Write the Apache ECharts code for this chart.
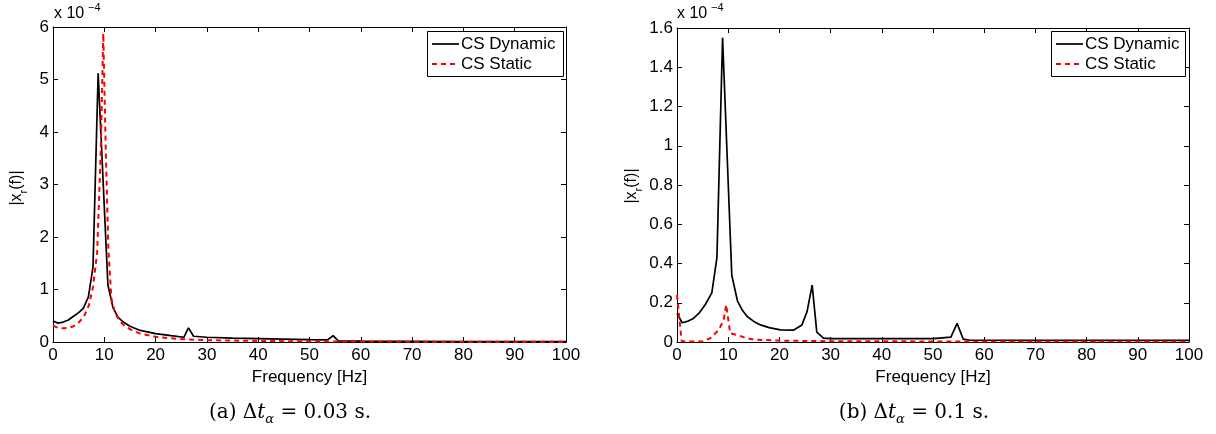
<!DOCTYPE html>
<html>
<head>
<meta charset="utf-8">
<script src="https://cdn.jsdelivr.net/npm/echarts@6/dist/echarts.min.js"></script>
<style>
html,body{margin:0;padding:0;background:#fff;}
#c{width:1216px;height:434px;}
</style>
</head>
<body>
<div id="c"></div>
<script>
// Units: magnitude in 1e-4
var xTicks = [0,10,20,30,40,50,60,70,80,90,100];

// (a) dt = 0.03 s
var fA_dyn = [0,1,2,3,4,5,5.9,6.9,7.8,8.8,10.7,11.7,12.7,13.7,15,17,20,23,25.5,26.4,27.4,30,35,40,45,50,53.5,54.6,55.6,60,70,80,90,100];
var vA_dyn = [0.40,0.36,0.38,0.42,0.49,0.56,0.64,0.86,1.43,5.12,1.09,0.65,0.47,0.38,0.30,0.22,0.16,0.12,0.09,0.27,0.11,0.09,0.075,0.065,0.055,0.045,0.04,0.12,0.02,0.015,0.012,0.01,0.008,0.008];
var fA_sta = [0,1,2,3,4,5,6,7,7.8,8.6,9.3,9.8,10.3,10.8,11.4,12.1,13,14,15.5,17,20,23,26,30,40,50,60,80,100];
var vA_sta = [0.31,0.27,0.26,0.27,0.30,0.37,0.48,0.70,1.05,1.7,3.6,5.88,3.6,1.75,0.82,0.55,0.40,0.30,0.22,0.16,0.10,0.07,0.05,0.035,0.02,0.012,0.008,0.006,0.005];

// (b) dt = 0.1 s
var fB_dyn = [0,1,2,3.2,4.4,5.5,6.8,7.8,8.9,10.7,11.8,12.8,13.7,15,16.3,18,20.2,22.8,24.4,25.4,26.4,27.3,28.6,30,40,50,53.5,54.7,55.9,57,70,83,100];
var vB_dyn = [0.146,0.098,0.105,0.12,0.15,0.19,0.25,0.43,1.55,0.34,0.21,0.16,0.13,0.105,0.087,0.073,0.062,0.061,0.087,0.155,0.29,0.05,0.02,0.017,0.017,0.017,0.025,0.095,0.015,0.01,0.008,0.008,0.008];
var fB_sta = [0,0.9,2,5,6.5,8.1,9.1,9.6,10.4,11.7,13.7,15,20.2,30,50,100];
var vB_sta = [0.24,0.005,0.002,0.003,0.019,0.06,0.11,0.19,0.044,0.036,0.019,0.012,0.007,0.004,0.003,0.002];

var yTicksA = {min:0, max:6, interval:1};
var yTicksB = {min:0, max:1.6, interval:0.2};

var names = ['CS Dynamic','CS Static'];
var captions = ['(a)','(b)'];
var captionVals = ['0.03','0.1'];

function pairs(f, v){ return f.map(function(x,i){ return [x, v[i]]; }); }

var FONT = 'Liberation Sans';
var grids = [
  {left:53, top:27, width:513, height:315},
  {left:677, top:28, width:512, height:314}
];

function xAx(gi, top){
  return {
    type:'value', gridIndex:gi, min:0, max:100, interval:10,
    position: top ? 'top' : 'bottom',
    name: top ? '' : 'Frequency [Hz]', nameLocation:'middle', nameGap:25,
    nameTextStyle:{fontFamily:FONT, fontSize:17, color:'#000'},
    axisLine:{show:true, onZero:false, lineStyle:{color:'#000', width:1}},
    axisTick:{show:true, inside:true, length:5, lineStyle:{color:'#000'}},
    axisLabel:{show:!top, fontFamily:FONT, fontSize:17, color:'#000', margin:5},
    splitLine:{show:false}
  };
}
function yAx(gi, rng, right){
  return {
    type:'value', gridIndex:gi, min:rng.min, max:rng.max, interval:rng.interval,
    position: right ? 'right' : 'left',
    axisLine:{show:true, onZero:false, lineStyle:{color:'#000', width:1}},
    axisTick:{show:true, inside:true, length:5, lineStyle:{color:'#000'}},
    axisLabel:{show:!right, fontFamily:FONT, fontSize:17, color:'#000', margin:4,
      formatter:function(v){ return String(parseFloat(v.toFixed(2))); }},
    splitLine:{show:false}
  };
}

function lineSeries(name, xi, yi, data, dashed){
  return {
    name:name, type:'line', xAxisIndex:xi, yAxisIndex:yi, data:data,
    symbol:'none', showSymbol:false, animation:false, z:dashed?3:2,
    lineStyle: dashed ? {color:'#ff0000', width:2, type:[5,4]} : {color:'#000', width:1.7, type:'solid'},
    itemStyle:{color: dashed ? '#ff0000' : '#000'}
  };
}

// legend drawn as graphic: box + line samples + labels
function legendBox(x0, x1){
  var y0 = 31, y1 = 76;
  return [
    {type:'rect', z:10, shape:{x:x0+0.5, y:y0+0.5, width:x1-x0, height:y1-y0}, style:{fill:'#fff', stroke:'#000', lineWidth:1}},
    {type:'line', z:11, shape:{x1:x0+5, y1:y0+13, x2:x0+32, y2:y0+13}, style:{stroke:'#000', lineWidth:1.7}},
    {type:'line', z:11, shape:{x1:x0+5, y1:y0+33, x2:x0+32, y2:y0+33}, style:{stroke:'#ff0000', lineWidth:2, lineDash:[5,4]}},
    {type:'text', z:11, x:x0+34, y:y0+13, style:{text:names[0], font:'17px "Liberation Sans"', fill:'#000', verticalAlign:'middle'}},
    {type:'text', z:11, x:x0+34, y:y0+33, style:{text:names[1], font:'17px "Liberation Sans"', fill:'#000', verticalAlign:'middle'}}
  ];
}

function supText(x, y){
  return [
    {type:'text', left:x, top:y+4, style:{text:'x 10', font:'16px "Liberation Sans"', fill:'#000'}},
    {type:'text', left:x+34, top:y, style:{text:'\u22124', font:'11px "Liberation Sans"', fill:'#000'}}
  ];
}
function yLabel(cx, cy){
  return {
    type:'text', x:cx, y:cy, rotation:Math.PI/2,
    style:{
      text:'{n||x}{s|r}{n|(f)|}', align:'center', verticalAlign:'middle',
      rich:{
        n:{font:'16px "Liberation Sans"', fill:'#000', lineHeight:24, verticalAlign:'middle'},
        s:{font:'11px "Liberation Sans"', fill:'#000', lineHeight:24, verticalAlign:'bottom'}
      }
    }
  };
}
function caption(cx, cy, lab, val){
  return {
    type:'text', x:cx, y:cy,
    style:{
      text:'{n|' + lab + ' \u0394}{i|t}{s|\u03b1}{n| = ' + val + ' s.}', align:'center', verticalAlign:'middle',
      rich:{
        n:{font:'20px "DejaVu Serif"', fill:'#000', lineHeight:26, verticalAlign:'middle'},
        i:{font:'italic 20px "DejaVu Serif"', fill:'#000', lineHeight:26, verticalAlign:'middle'},
        s:{font:'italic 13px "DejaVu Serif"', fill:'#000', lineHeight:26, verticalAlign:'bottom'}
      }
    }
  };
}

var chart = echarts.init(document.getElementById('c'), null, {renderer:'canvas'});
chart.setOption({
  backgroundColor:'#fff',
  animation:false,
  grid:grids,
  xAxis:[xAx(0,false), xAx(0,true), xAx(1,false), xAx(1,true)],
  yAxis:[yAx(0,yTicksA,false), yAx(0,yTicksA,true), yAx(1,yTicksB,false), yAx(1,yTicksB,true)],
  series:[
    lineSeries(names[0], 0, 0, pairs(fA_dyn, vA_dyn), false),
    lineSeries(names[1], 0, 0, pairs(fA_sta, vA_sta), true),
    lineSeries(names[0], 2, 2, pairs(fB_dyn, vB_dyn), false),
    lineSeries(names[1], 2, 2, pairs(fB_sta, vB_sta), true)
  ],
  graphic: [].concat(
    legendBox(427, 563), legendBox(1051, 1185),
    supText(54, 2), supText(677, 2),
    [yLabel(17, 188), yLabel(632, 186),
     caption(290, 413, captions[0], captionVals[0]),
     caption(914, 413, captions[1], captionVals[1])]
  )
});
</script>
</body>
</html>
